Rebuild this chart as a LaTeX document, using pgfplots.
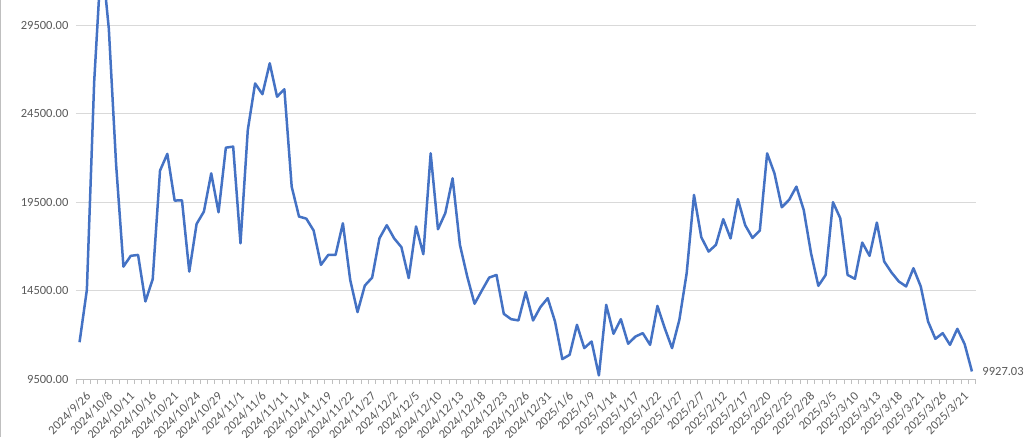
\documentclass[border=0pt]{standalone}
\usepackage{fontspec}
\setmainfont{Carlito}
\usepackage{pgfplots}
\pgfplotsset{compat=1.18}
\usepackage{pgfplotstable}
\definecolor{lineblue}{HTML}{4472C4}
\definecolor{txtgray}{HTML}{595959}
\definecolor{gridgray}{HTML}{D9D9D9}
\definecolor{axgray}{HTML}{BFBFBF}
\pgfplotstableread{
x y
0 11580
1 14540
2 26300
3 33500
4 29300
5 21600
6 15850
7 16460
8 16510
9 13880
10 15140
11 21275
12 22220
13 19580
14 19600
15 15570
16 18260
17 18960
18 21120
19 18920
20 22570
21 22630
22 17170
23 23570
24 26200
25 25590
26 27340
27 25450
28 25870
29 20370
30 18680
31 18560
32 17890
33 15950
34 16510
35 16510
36 18300
37 15100
38 13280
39 14780
40 15230
41 17450
42 18190
43 17450
44 16950
45 15200
46 18120
47 16550
48 22250
49 17960
50 18870
51 20840
52 17080
53 15290
54 13750
55 14500
56 15230
57 15380
58 13180
59 12880
60 12810
61 14410
62 12807
63 13560
64 14067
65 12750
66 10623
67 10868
68 12562
69 11245
70 11620
71 9700
72 13690
73 12054
74 12882
75 11490
76 11900
77 12090
78 11430
79 13630
80 12374
81 11245
82 12844
83 15480
84 19900
85 17510
86 16700
87 17080
88 18530
89 17440
90 19660
91 18190
92 17470
93 17890
94 22250
95 21120
96 19205
97 19620
98 20370
99 19055
100 16610
101 14764
102 15380
103 19490
104 18580
105 15380
106 15160
107 17210
108 16460
109 18340
110 16140
111 15520
112 15010
113 14730
114 15760
115 14730
116 12750
117 11770
118 12090
119 11430
120 12336
121 11470
122 9927.03
}\datatable
\begin{document}
\begin{tikzpicture}
\useasboundingbox (0,0) rectangle (1025pt,437pt);
\draw[axgray, line width=0.8pt] (0.5pt,0) -- (0.5pt,437pt);
\begin{axis}[
  at={(75.9pt,58pt)}, anchor=south west,
  scale only axis,
  width=899.7pt, height=379pt,
  xmin=-0.5, xmax=122.5,
  ymin=9500, ymax=30914,
  clip=false,
  scaled y ticks=false,
  axis x line*=bottom,
  axis y line*=left,
  y axis line style={draw=none},
  x axis line style={draw=axgray, line width=0.8pt},
  ymajorgrids,
  grid style={gridgray, line width=0.8pt},
  ytick={9500,14500,19500,24500,29500},
  /pgf/number format/fixed,
  /pgf/number format/fixed zerofill,
  /pgf/number format/precision=2,
  /pgf/number format/1000 sep={},
  /pgf/number format/assume math mode=true,
  xtick={0,3,...,120},
  xticklabels={2024/9/26,2024/10/8,2024/10/11,2024/10/16,2024/10/21,2024/10/24,2024/10/29,2024/11/1,2024/11/6,2024/11/11,2024/11/14,2024/11/19,2024/11/22,2024/11/27,2024/12/2,2024/12/5,2024/12/10,2024/12/13,2024/12/18,2024/12/23,2024/12/26,2024/12/31,2025/1/6,2025/1/9,2025/1/14,2025/1/17,2025/1/22,2025/1/27,2025/2/7,2025/2/12,2025/2/17,2025/2/20,2025/2/25,2025/2/28,2025/3/5,2025/3/10,2025/3/13,2025/3/18,2025/3/21,2025/3/26,2025/3/21},
  minor xtick={-0.5,0.5,...,122.5},
  major tick length=0pt,
  minor tick length=5pt,
  tick align=outside,
  minor tick style={axgray, line width=0.8pt},
  ticklabel style={font=\fontsize{12.5}{14}\selectfont, text=txtgray},
  xticklabel style={rotate=45, anchor=east, xshift=-1pt, yshift=-17pt},
  yticklabel style={xshift=-4pt},
]
\addplot[lineblue, line width=2.5pt, line join=round] table[x=x,y=y]{\datatable};
\node[anchor=west, text=txtgray, font=\fontsize{12.5}{14}\selectfont] at (axis cs:122,9927.03) [xshift=7pt] {9927.03};
\end{axis}
\end{tikzpicture}
\end{document}
